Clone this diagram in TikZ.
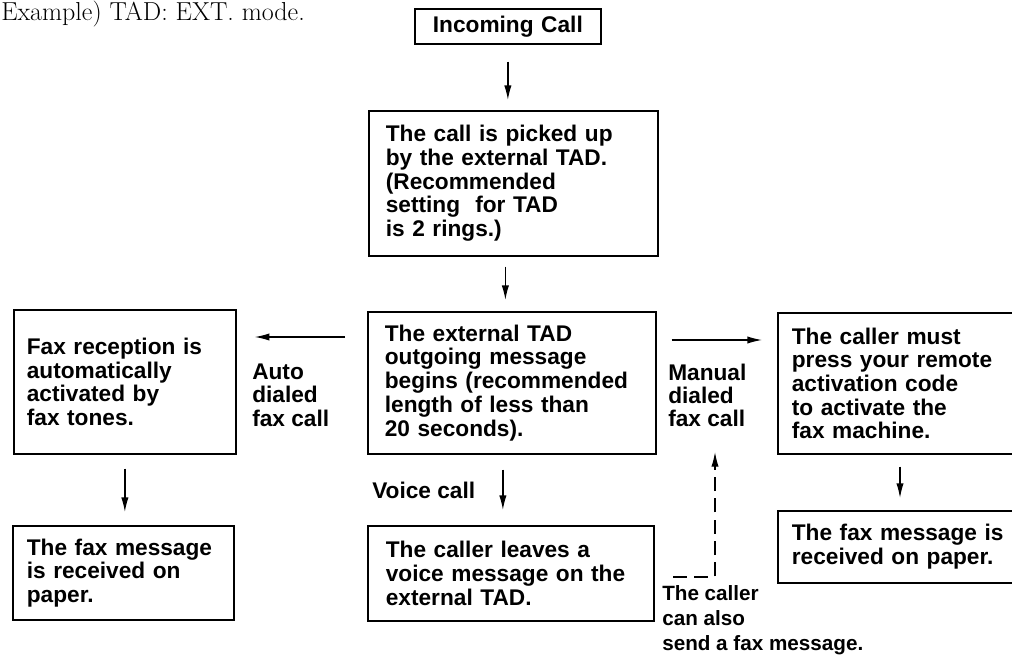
\documentclass[tikz,border=0pt]{standalone}
\usepackage{fontspec}
\newfontfamily\manualsans{Liberation Sans}
\usetikzlibrary{arrows.meta, positioning}

\begin{document}
\begin{tikzpicture}[x=0.75pt, y=-0.75pt,
    box/.style={draw, rectangle, line width=1.3pt, anchor=north west, align=left, inner ysep=2pt, font=\manualsans\bfseries\fontsize{17}{17.8}\selectfont},
    lbl/.style={anchor=north west, align=left, inner sep=0pt, font=\manualsans\bfseries\fontsize{17}{17.3}\selectfont},
    flow/.style={-{Latex[length=11pt, width=5.5pt]}, line width=1pt}]
    \useasboundingbox (0,0) rectangle (1012,660);

    \node [anchor=base west, inner sep=0pt, font=\fontsize{19.5}{22}\selectfont] (title) at (1,21) {Example) TAD: EXT. mode.};

    \node [box, align=center, text width=124.5pt, inner xsep=7.5pt, minimum height=26.25pt] (incoming) at (414,8) {Incoming Call};
    \node [box, text width=191.25pt, inner xsep=12.75pt, minimum height=108.75pt] (picked) at (368,110)
      {The call is picked up\\ by the external TAD.\\ (Recommended\\ setting\ \ for TAD\\ is 2 rings.)};
    \node [box, text width=190.5pt, inner xsep=12.75pt, minimum height=106.5pt] (tadmsg) at (367,311)
      {The external TAD\\ outgoing message\\ begins (recommended\\ length of less than\\ 20 seconds).};
    \node [box, text width=147pt, inner xsep=9.75pt, minimum height=108pt] (faxauto) at (13,309)
      {Fax reception is\\ automatically\\ activated by\\ fax tones.};
    \node [box, text width=144.75pt, inner xsep=10.5pt, minimum height=70.5pt] (faxpaper1) at (12,525)
      {The fax message\\ is received on\\ paper.};
    \node [box, text width=187.5pt, inner xsep=13.5pt, minimum height=71.25pt] (voicemsg) at (367,525)
      {The caller leaves a\\ voice message on the\\ external TAD.};
    \node [box, text width=185pt, inner xsep=10.5pt, minimum height=105.75pt] (remote) at (777,312)
      {The caller must\\ press your remote\\ activation code\\ to activate the\\ fax machine.};
    \node [box, text width=185pt, inner xsep=10.5pt, minimum height=54pt] (faxpaper2) at (777,510)
      {The fax message is\\ received on paper.};

    \node [lbl] (autolbl) at (252,364) {Auto\\ dialed\\ fax call};
    \node [lbl] (manuallbl) at (668,364) {Manual\\ dialed\\ fax call};
    \node [lbl, anchor=west] (voicelbl) at (372,490) {Voice call};
    \node [lbl, font=\manualsans\bfseries\fontsize{15.5}{18.75}\selectfont] (alsolbl) at (662,585)
      {The caller\\ can also\\ send a fax message.};
    \coordinate (sendtip) at (715,452);

    \draw [flow, shorten <=12.75pt, shorten >=7.5pt] (incoming.south) -- (incoming.south |- picked.north);
    \draw [flow, shorten <=7.5pt, shorten >=8.25pt] ([xshift=-6pt]picked.south) -- ([xshift=-6pt]picked.south |- tadmsg.north);
    \draw [flow, shorten <=16.5pt, shorten >=13.5pt] ([yshift=-19.5pt]tadmsg.north west) -- ([yshift=-19.5pt]tadmsg.north west -| faxauto.east);
    \draw [flow, shorten <=11.25pt, shorten >=11.25pt] ([yshift=-21.75pt]tadmsg.north east) -- ([yshift=-21.75pt]tadmsg.north east -| remote.west);
    \draw [flow, shorten <=11.25pt, shorten >=11.25pt] ([xshift=-6.75pt]tadmsg.south) -- ([xshift=-6.75pt]tadmsg.south |- voicemsg.north);
    \draw [flow, shorten <=10.5pt, shorten >=9.75pt] (faxauto.south) -- (faxauto.south |- faxpaper1.north);
    \draw [flow, shorten <=9pt, shorten >=9pt] ([xshift=92.25pt]remote.south west) -- ([xshift=92.25pt]remote.south west |- faxpaper2.north);
    \draw [flow, dash pattern=on 10.5pt off 5.5pt] ([xshift=8.25pt, yshift=6pt]alsolbl.north west) -| (sendtip);
  \end{tikzpicture}
\end{document}
